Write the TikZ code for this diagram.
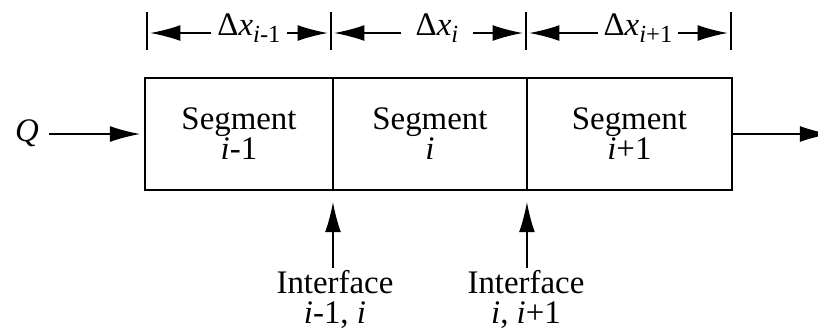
\documentclass[tikz,border=0pt]{standalone}
\usepackage{fontspec}
\setmainfont{Liberation Serif}
\usetikzlibrary{arrows.meta,positioning}
\newcommand{\dsub}[1]{\raisebox{-2.6pt}{\fontsize{9}{9}\selectfont #1}}
\tikzset{
  seg/.style={draw, line width=0.5pt, outer sep=0pt, inner sep=0pt, minimum height=40.9pt, align=center},
  flowarrow/.style={-{Latex[length=11pt,width=5.8pt]}, line width=0.45pt},
  dimlbl/.style={anchor=base, inner sep=2pt},
  iflbl/.style={anchor=north, inner sep=0.5pt, align=center}
}

\begin{document}
\begin{tikzpicture}[x=0.365pt, y=-0.365pt, font=\fontsize{12}{11}\selectfont]
    \useasboundingbox (0,0) rectangle (818,331);
    \node[seg, minimum width=68.6pt] (s1) at (239,134) {Segment\\\textit{i}-1};
    \node[seg, minimum width=70.8pt, right=0pt of s1] (s2) {Segment\\\textit{i}};
    \node[seg, minimum width=74.8pt, right=0pt of s2] (s3) {Segment\\\textit{i}+1};
    \node[anchor=base] (Q) at (27,141) {\textit{Q}};
    \coordinate (out) at (830,134);
    \draw[flowarrow, shorten >=1.8pt] (Q.east |- s1.west) -- (s1.west);
    \draw[flowarrow] (s3.east) -- (out);
    \node[iflbl] (if1) at (335,268) {Interface\\\textit{i}-1, \textit{i}};
    \node[iflbl] (if2) at (526,268) {Interface\\\textit{i}, \textit{i}+1};
    \draw[flowarrow, shorten >=4.4pt] (s1.south east |- if1.north) -- (s1.south east);
    \draw[flowarrow, shorten >=4.4pt] (s2.south east |- if2.north) -- (s2.south east);
    \coordinate (t0) at (147,33);
    \coordinate (t1) at (331,33);
    \coordinate (t2) at (526,33);
    \coordinate (t3) at (731,33);
    \foreach \t in {t0,t1,t2,t3}
        \draw[line width=0.5pt] (\t) ++(0,-21) -- ++(0,38);
    \node[dimlbl] (d1) at (249,35) {Δ\textit{x}\dsub{\textit{i}-1}};
    \node[dimlbl, inner xsep=5pt] (d2) at (437,35) {Δ\textit{x}\dsub{\textit{i}}};
    \node[dimlbl] (d3) at (638,35) {Δ\textit{x}\dsub{\textit{i}+1}};
    \draw[flowarrow, shorten >=1.2pt] (d1.west |- t0) -- (t0);
    \draw[flowarrow, shorten >=1.2pt] (d1.east |- t0) -- (t1);
    \draw[flowarrow, shorten >=1.2pt] (d2.west |- t1) -- (t1);
    \draw[flowarrow, shorten >=1.2pt] (d2.east |- t1) -- (t2);
    \draw[flowarrow, shorten >=1.2pt] (d3.west |- t2) -- (t2);
    \draw[flowarrow, shorten >=1.2pt] (d3.east |- t2) -- (t3);
\end{tikzpicture}
\end{document}
